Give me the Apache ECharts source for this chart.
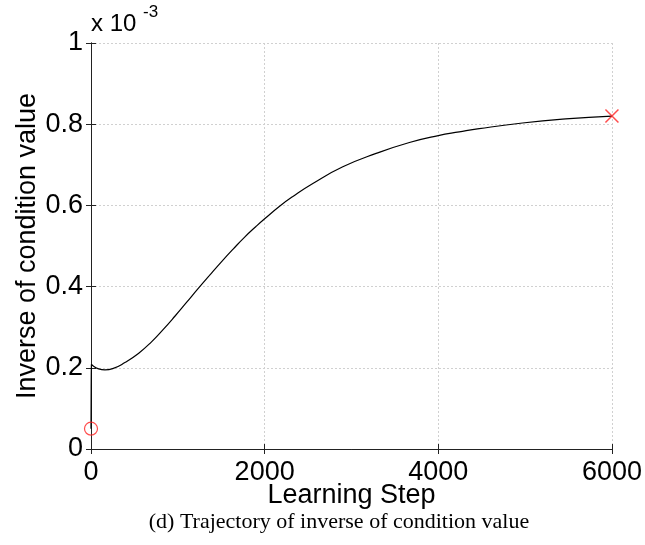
<!DOCTYPE html>
<html>
<head>
<meta charset="utf-8">
<script src="https://cdn.jsdelivr.net/npm/echarts@6/dist/echarts.min.js"></script>
<style>html,body{margin:0;padding:0;background:#fff}#c{width:645px;height:545px}</style>
</head>
<body>
<div id="c"></div>
<script>
// Learning step (x) and inverse of condition value (y, in units of 1e-3)
var steps = [0, 2, 5, 10, 30, 80, 160, 250, 391, 550, 697, 830, 966, 1100, 1233, 1370, 1502, 1640, 1770, 1900, 2000, 2172, 2325, 2555, 2900, 3284, 3667, 4000, 4241, 4471, 4969, 5467, 6000];
var invCond = [0.05, 0.15, 0.208, 0.209, 0.204, 0.198, 0.195, 0.198, 0.213, 0.236, 0.264, 0.294, 0.327, 0.361, 0.395, 0.429, 0.461, 0.493, 0.522, 0.548, 0.567, 0.598, 0.622, 0.654, 0.695, 0.728, 0.755, 0.772, 0.781, 0.789, 0.803, 0.813, 0.820];
var xTicks = [0, 2000, 4000, 6000];
var yTicks = [0, 0.2, 0.4, 0.6, 0.8, 1];
var startPt = [steps[0], invCond[0]];
var endPt = [steps[steps.length - 1], invCond[invCond.length - 1]];

var chart = echarts.init(document.getElementById('c'));
var fontF = 'Liberation Sans, Arial, sans-serif';
var line = {show: true, lineStyle: {color: '#222', width: 1}};
var tick = {show: true, inside: true, length: 5, lineStyle: {color: '#222'}};
var split = {show: true, lineStyle: {color: '#d0d0d0', type: [2, 2], width: 1}};
chart.setOption({
  animation: false,
  backgroundColor: '#fff',
  grid: {left: 91, right: 32, top: 43, bottom: 96},
  xAxis: [
    {type: 'value', min: xTicks[0], max: xTicks[xTicks.length - 1], interval: 2000,
     axisLine: line, axisTick: tick, splitLine: split,
     axisLabel: {color: '#000', fontSize: 27, fontFamily: fontF, margin: 10, formatter: function (v) { return String(v); }},
     name: 'Learning Step', nameLocation: 'middle', nameGap: 33, nameMoveOverlap: false,
     nameTextStyle: {color: '#000', fontSize: 27, fontFamily: fontF}},
    {type: 'value', position: 'top', min: 0, max: 6000, interval: 2000,
     axisLine: line, axisTick: tick, splitLine: {show: false}, axisLabel: {show: false}}
  ],
  yAxis: [
    {type: 'value', min: yTicks[0], max: yTicks[yTicks.length - 1], interval: 0.2,
     axisLine: line, axisTick: tick, splitLine: split,
     axisLabel: {color: '#000', fontSize: 27, fontFamily: fontF, margin: 8},
     name: 'Inverse of condition value', nameLocation: 'middle', nameGap: 50, nameMoveOverlap: false,
     nameTextStyle: {color: '#000', fontSize: 27, fontFamily: fontF}},
    {type: 'value', position: 'right', min: 0, max: 1, interval: 0.2,
     axisLine: line, axisTick: tick, splitLine: {show: false}, axisLabel: {show: false}}
  ],
  graphic: [
    {type: 'text', left: 91, top: 12, style: {text: 'x 10', fontSize: 24, fontFamily: fontF, fill: '#000'}},
    {type: 'text', left: 143, top: 4, style: {text: '-3', fontSize: 17, fontFamily: fontF, fill: '#000'}},
    {type: 'text', x: 339, y: 522, style: {text: '(d) Trajectory of inverse of condition value', fontSize: 22, fontFamily: 'Liberation Serif, Times New Roman, serif', fill: '#000', align: 'center', verticalAlign: 'middle'}}
  ],
  series: [
    {type: 'line', data: steps.map(function (s, i) { return [s, invCond[i]]; }),
     showSymbol: false, smooth: 0.5, lineStyle: {color: '#000', width: 1.2}},
    {type: 'scatter', data: [
      {value: startPt, symbol: 'circle', symbolSize: 13, itemStyle: {color: 'rgba(0,0,0,0)', borderColor: '#ff2020', borderWidth: 1.2}},
      {value: endPt, symbol: 'path://M0,0L10,10M10,0L0,10', symbolSize: 13, itemStyle: {color: 'rgba(0,0,0,0)', borderColor: '#ff2020', borderWidth: 1.5}}
    ], z: 5}
  ]
});
</script>
</body>
</html>
